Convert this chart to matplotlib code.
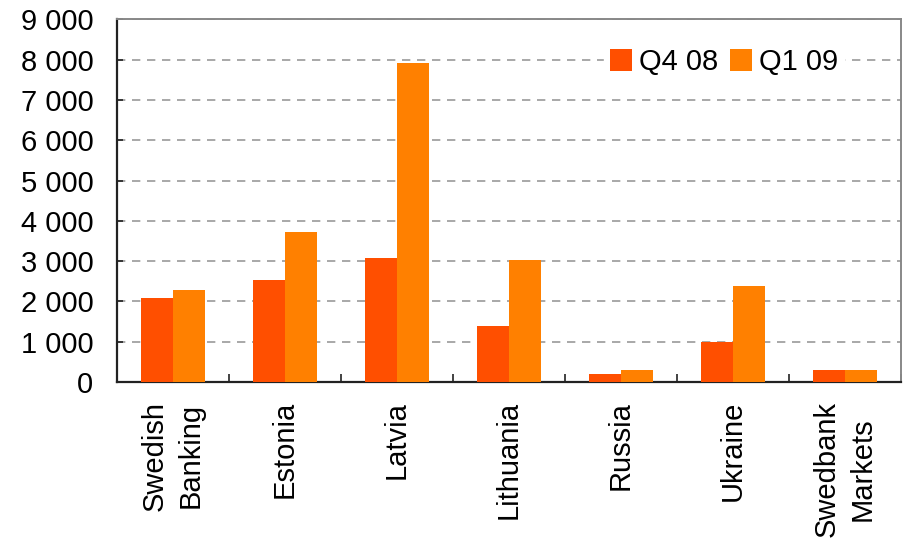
import matplotlib.pyplot as plt
import numpy as np
from matplotlib.ticker import FuncFormatter

plt.rcParams['font.family'] = ['Liberation Sans', 'DejaVu Sans']

categories = ['Swedish\nBanking', 'Estonia', 'Latvia', 'Lithuania', 'Russia',
              'Ukraine', 'Swedbank\nMarkets']
q4_08 = [2090, 2530, 3080, 1390, 200, 990, 300]
q1_09 = [2280, 3730, 7920, 3020, 300, 2390, 300]
yticks = np.arange(0, 9001, 1000)

c_q4 = '#FF4F00'
c_q1 = '#FF8000'

fig = plt.figure(figsize=(9.05, 5.4), dpi=100)
ax = fig.add_axes([0.1293, 0.2926, 0.8663, 0.6713])

x = np.arange(len(categories))
w = 0.286
ax.bar(x - w / 2, q4_08, w, color=c_q4, label='Q4 08', zorder=3)
ax.bar(x + w / 2, q1_09, w, color=c_q1, label='Q1 09', zorder=3)

ax.set_xlim(-0.5, len(categories) - 0.5)
ax.set_ylim(0, 9000)
ax.set_yticks(yticks)
ax.yaxis.set_major_formatter(FuncFormatter(lambda v, p: f'{int(v):,}'.replace(',', ' ')))

# gridlines dashed grey
ax.grid(axis='y', color='#999999', linestyle=(0, (5, 4)), linewidth=1.2, zorder=0)

# category ticks between groups, labels as separate text
ax.set_xticks(np.arange(len(categories) + 1) - 0.5)
ax.set_xticklabels([])
ax.tick_params(axis='x', direction='in', length=6, width=1.2, color='#222222')
ax.tick_params(axis='y', direction='in', length=4, width=1.2, color='#222222',
               labelsize=21, pad=17)

for i, lab in enumerate(categories):
    ax.text(i, -470, lab, rotation=90, ha='center', va='top', fontsize=21,
            multialignment='center', linespacing=1.35, clip_on=False)

for s in ['left', 'bottom']:
    ax.spines[s].set_color('#222222')
    ax.spines[s].set_linewidth(1.6)
for s in ['top', 'right']:
    ax.spines[s].set_color('#888888')
    ax.spines[s].set_linewidth(1.4)

leg = ax.legend(loc='upper right', bbox_to_anchor=(0.946, 0.977), ncol=2, fontsize=21,
                frameon=True, fancybox=False, edgecolor='white', framealpha=1,
                handlelength=0.75, handleheight=0.75, handletextpad=0.25,
                columnspacing=0.4, borderpad=0.2)

fig.savefig('out.png', dpi=100)
